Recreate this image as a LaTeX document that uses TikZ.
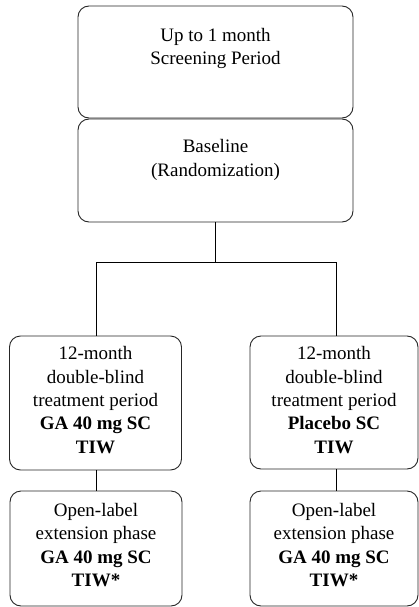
\documentclass[tikz,border=0pt]{standalone}
\usepackage{fontspec}
\setmainfont{Liberation Serif}
\begin{document}
\begin{tikzpicture}[x=1pt,y=-1pt,
  box/.style={draw=black!85,line width=0.9pt,rounded corners=11pt,inner sep=0pt},
  txt/.style={align=center,inner sep=0pt,font=\fontsize{19}{23.3}\selectfont},
  conn/.style={draw=black,line width=0.9pt}]
\useasboundingbox (0,0) rectangle (419,607);
% boxes
\node[box,minimum width=275pt,minimum height=112pt] (b1) at (215.5,62) {};
\node[box,minimum width=275pt,minimum height=103pt] (b2) at (215.5,170.5) {};
\node[box,minimum width=172pt,minimum height=134pt] (b3l) at (95.5,403) {};
\node[box,minimum width=168pt,minimum height=133pt] (b3r) at (334,402.5) {};
\node[box,minimum width=172pt,minimum height=115pt] (b4l) at (96,548.5) {};
\node[box,minimum width=168pt,minimum height=115pt] (b4r) at (334,548.5) {};
% texts
\node[txt] (t1) at (215.5,48.5) {Up to 1 month\\Screening Period};
\node[txt] (t2) at (215.5,160) {Baseline\\(Randomization)};
\node[txt] (t3l) at (95.5,400) {12-month\\double-blind\\treatment period\\\textbf{GA 40 mg SC}\\\textbf{TIW}};
\node[txt] (t3r) at (334,400) {12-month\\double-blind\\treatment period\\\textbf{Placebo SC}\\\textbf{TIW}};
\node[txt] (t4l) at (96,545) {Open-label\\extension phase\\\textbf{GA 40 mg SC}\\\textbf{TIW*}};
\node[txt] (t4r) at (334,545) {Open-label\\extension phase\\\textbf{GA 40 mg SC}\\\textbf{TIW*}};
% connectors
\coordinate (split) at (215.5,262);
\coordinate (sl) at (96,262);
\coordinate (sr) at (336,262);
\draw[conn] (b2.south) -- (split);
\draw[conn] (sl) -- (sr);
\draw[conn] (sl) -- (sl |- b3l.north);
\draw[conn] (sr) -- (sr |- b3r.north);
\draw[conn] (sl |- b3l.south) -- (sl |- b4l.north);
\draw[conn] (sr |- b3r.south) -- (sr |- b4r.north);
\end{tikzpicture}
\end{document}
